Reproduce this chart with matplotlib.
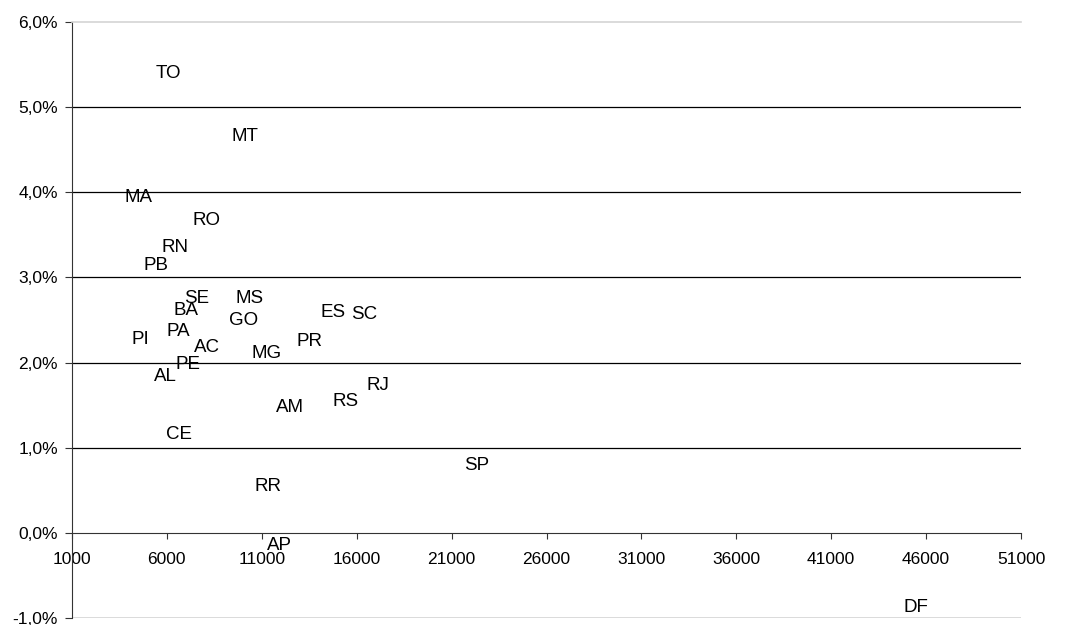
import matplotlib
matplotlib.use("Agg")
import matplotlib.pyplot as plt

plt.rcParams['font.family'] = ['Liberation Sans', 'DejaVu Sans']

states = ["TO", "MT", "MA", "RO", "RN", "PB", "SE", "BA", "MS", "GO", "ES", "SC", "PI", "PA",
          "AC", "PR", "MG", "PE", "AL", "RJ", "RS", "AM", "CE", "SP", "RR", "AP", "DF"]
x_vals = [6060, 10120, 4530, 8110, 6430, 5430, 7590, 7010, 10380, 10060, 14750, 16390, 4580, 6590,
          8110, 13490, 11270, 7110, 5900, 17120, 15440, 12490, 6640, 22340, 11330, 11910, 45470]
y_vals = [5.39, 4.65, 3.94, 3.67, 3.35, 3.14, 2.75, 2.61, 2.75, 2.49, 2.59, 2.56, 2.27, 2.37,
          2.18, 2.25, 2.11, 1.98, 1.84, 1.73, 1.54, 1.47, 1.16, 0.79, 0.54, -0.15, -0.87]

x_ticks = [1000, 6000, 11000, 16000, 21000, 26000, 31000, 36000, 41000, 46000, 51000]
y_ticks = [-1, 0, 1, 2, 3, 4, 5, 6]
y_labels = ["-1,0%", "0,0%", "1,0%", "2,0%", "3,0%", "4,0%", "5,0%", "6,0%"]

fig = plt.figure(figsize=(10.74, 6.25), dpi=100)
ax = fig.add_axes([0.067, 0.011, 0.8837, 0.954])

for s, xv, yv in zip(states, x_vals, y_vals):
    ax.text(xv, yv, s, ha='center', va='center', fontsize=13.5, color='black')

ax.set_xlim(1000, 51000)
ax.set_ylim(-1, 6)

for yv in [1, 2, 3, 4, 5]:
    ax.axhline(yv, color='black', lw=0.9, zorder=0)
ax.axhline(-1, color='#d4d4d4', lw=1.2, zorder=0)

ax.spines['right'].set_visible(False)
ax.spines['top'].set_color('#d4d4d4')
ax.spines['top'].set_linewidth(1.2)
ax.spines['bottom'].set_position(('data', 0))
ax.spines['bottom'].set_color('#333333')
ax.spines['left'].set_color('#333333')

ax.set_xticks(x_ticks)
ax.set_xticklabels([str(t) for t in x_ticks])
ax.set_yticks(y_ticks)
ax.set_yticklabels(y_labels)
ax.tick_params(axis='x', direction='out', length=4.5, pad=9, labelsize=12.5, color='#333333')
ax.tick_params(axis='y', direction='out', length=5, pad=5, labelsize=12.5, color='#333333')

fig.savefig("out.png", dpi=100)
